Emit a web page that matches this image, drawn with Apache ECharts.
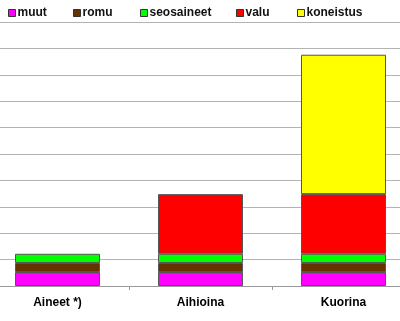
<!DOCTYPE html>
<html>
<head>
<meta charset="utf-8">
<script src="https://cdn.jsdelivr.net/npm/echarts@6/dist/echarts.min.js"></script>
<style>html,body{margin:0;padding:0;background:#fff;overflow:hidden;width:400px;height:321px;position:relative}#c{width:429px;height:321px;position:absolute;left:-14px;top:0}</style>
</head>
<body>
<div id="c"></div>
<script>
const categories = ['Aineet *)', 'Aihioina', 'Kuorina'];
const seriesNames = ['muut', 'romu', 'seosaineet', 'valu', 'koneistus'];
const muut = [0.53, 0.53, 0.53];
const romu = [0.34, 0.34, 0.34];
const seosaineet = [0.35, 0.35, 0.35];
const valu = [null, 2.26, 2.26];
const koneistus = [null, null, 5.28];
const colors = ['#ff00ff', '#663300', '#00ff00', '#ff0000', '#ffff00'];
const values = [muut, romu, seosaineet, valu, koneistus];
const legendLeft = [8, 73, 140, 236, 297];

const font = '"Liberation Sans", Arial, sans-serif';
const chart = echarts.init(document.getElementById('c'), null, {renderer: 'canvas'});
chart.setOption({
  animation: false,
  backgroundColor: '#ffffff',
  legend: seriesNames.map((n, i) => ({
    data: [n],
    left: legendLeft[i] + 14,
    top: 7,
    padding: 0,
    itemWidth: 7,
    itemHeight: 7,
    icon: 'rect',
    selectedMode: false,
    itemStyle: {borderColor: '#333333', borderWidth: 1},
    textStyle: {fontFamily: font, fontSize: 12, fontWeight: 'bold', color: '#111', padding: [0, 0, 0, -3]}
  })),
  grid: {left: 0, right: 0, top: 22, bottom: 35, containLabel: false},
  xAxis: {
    type: 'category',
    data: categories,
    axisLine: {lineStyle: {color: '#999999', width: 1}},
    axisTick: {show: true, length: 4, lineStyle: {color: '#999999'}},
    axisLabel: {fontFamily: font, fontSize: 12, fontWeight: 'bold', color: '#000', margin: 11}
  },
  yAxis: {
    type: 'value',
    min: 0, max: 10, interval: 1,
    axisLine: {show: false},
    axisTick: {show: false},
    axisLabel: {show: false},
    splitLine: {lineStyle: {color: '#b3b3b3', width: 1}}
  },
  series: seriesNames.map((n, i) => ({
    name: n,
    type: 'bar',
    stack: 'total',
    barWidth: 85,
    data: values[i],
    itemStyle: {color: colors[i], borderColor: '#555555', borderWidth: 1}
  }))
});
</script>
</body>
</html>
